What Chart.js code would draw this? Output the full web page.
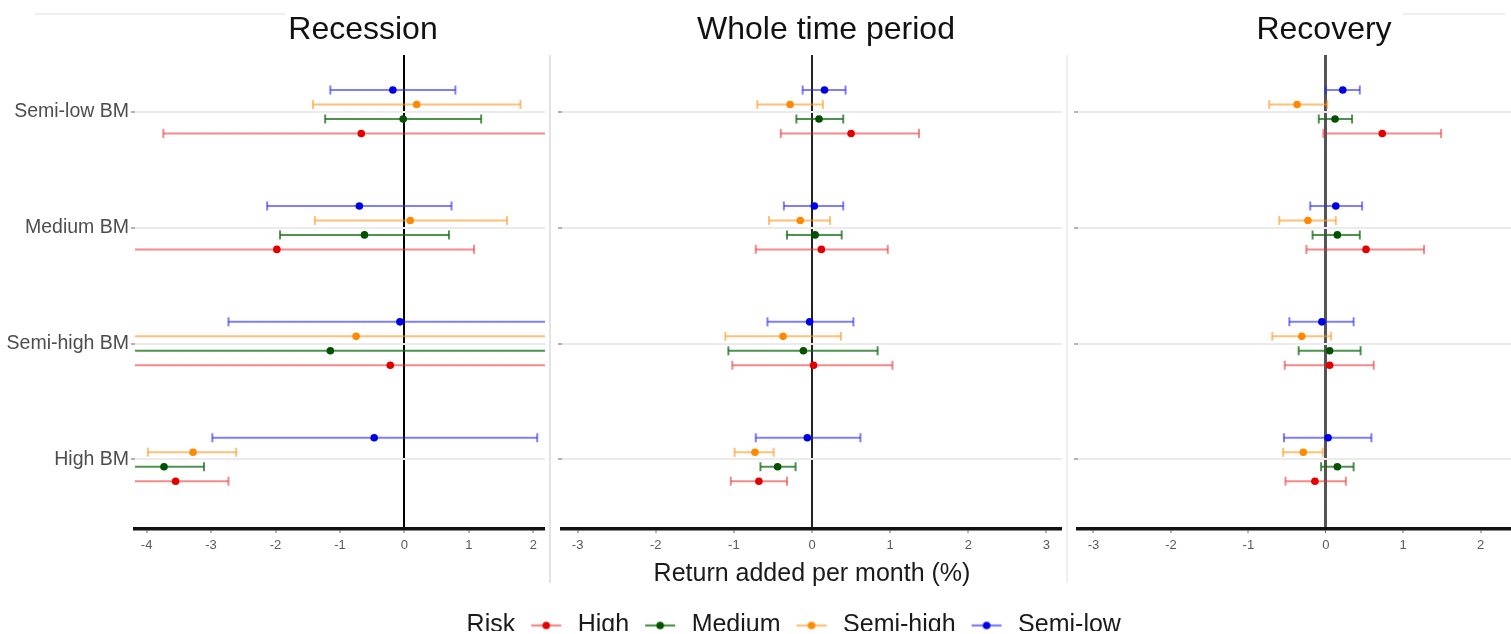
<!DOCTYPE html>
<html>
<head>
<meta charset="utf-8">
<script src="https://cdn.jsdelivr.net/npm/chart.js@4.4.1/dist/chart.umd.min.js"></script>
<style>
html,body{margin:0;padding:0;background:#fff;width:1511px;height:634px;overflow:hidden;position:relative}
canvas{position:absolute}
.sep{position:absolute;background:#e3e3e3}
</style>
</head>
<body>
<div class="sep" style="left:549px;top:55px;width:2px;height:528px"></div>
<div class="sep" style="left:1066px;top:55px;width:2px;height:528px;background:#f0f0f0"></div>
<div class="sep" style="left:35px;top:13px;width:250px;height:2px;background:#efefef"></div>
<div class="sep" style="left:1403px;top:13px;width:102px;height:2px;background:#efefef"></div>
<canvas id="c1" width="726" height="600" style="left:0;top:0"></canvas>
<canvas id="c2" width="546" height="600" style="left:553px;top:0"></canvas>
<canvas id="c3" width="512" height="600" style="left:1068px;top:0"></canvas>
<canvas id="cl" width="1511" height="60" style="left:13px;top:601px"></canvas>
<script>
// ---------- data ----------
const categories = ['High BM', 'Semi-high BM', 'Medium BM', 'Semi-low BM']; // bottom -> top
const riskLevels = ['High', 'Medium', 'Semi-high', 'Semi-low'];
const panelTitles = ['Recession', 'Whole time period', 'Recovery'];
const xAxisTitle = 'Return added per month (%)';
const legendTitle = 'Risk';
const recessionTicks = [-4, -3, -2, -1, 0, 1, 2];
const wholeTicks = [-3, -2, -1, 0, 1, 2, 3];
const recoveryTicks = [-3, -2, -1, 0, 1, 2, 3];

// rows follow riskLevels, columns follow categories
const recessionMean = [
  [-3.55, -0.22, -1.98, -0.67],
  [-3.73, -1.15, -0.62, -0.02],
  [-3.28, -0.75, 0.09, 0.19],
  [-0.47, -0.07, -0.70, -0.18]
];
const recessionLow = [
  [-4.37, -4.32, -5.04, -3.74],
  [-4.35, -4.75, -1.93, -1.23],
  [-3.98, -4.40, -1.39, -1.42],
  [-2.98, -2.73, -2.13, -1.15]
];
const recessionHigh = [
  [-2.73, 3.88, 1.08, 2.40],
  [-3.11, 2.45, 0.69, 1.19],
  [-2.61, 2.90, 1.59, 1.80],
  [2.06, 2.59, 0.73, 0.79]
];

const wholeMean = [
  [-0.68, 0.02, 0.12, 0.50],
  [-0.44, -0.11, 0.04, 0.09],
  [-0.73, -0.37, -0.15, -0.28],
  [-0.06, -0.03, 0.03, 0.16]
];
const wholeLow = [
  [-1.04, -1.02, -0.72, -0.40],
  [-0.66, -1.07, -0.32, -0.20],
  [-0.99, -1.11, -0.55, -0.70],
  [-0.72, -0.57, -0.36, -0.12]
];
const wholeHigh = [
  [-0.32, 1.03, 0.97, 1.37],
  [-0.21, 0.84, 0.38, 0.40],
  [-0.49, 0.37, 0.23, 0.14],
  [0.62, 0.53, 0.40, 0.43]
];

const recoveryMean = [
  [-0.14, 0.05, 0.52, 0.73],
  [0.15, 0.05, 0.15, 0.12],
  [-0.29, -0.31, -0.23, -0.37],
  [0.03, -0.05, 0.13, 0.22]
];
const recoveryLow = [
  [-0.52, -0.53, -0.25, -0.03],
  [-0.06, -0.35, -0.17, -0.09],
  [-0.55, -0.69, -0.60, -0.73],
  [-0.54, -0.47, -0.20, 0.00]
];
const recoveryHigh = [
  [0.26, 0.62, 1.27, 1.49],
  [0.36, 0.45, 0.44, 0.34],
  [-0.04, 0.07, 0.13, 0.02],
  [0.59, 0.36, 0.47, 0.44]
];

// ---------- styles ----------
const FONT = '"Liberation Sans", Arial, Helvetica, sans-serif';
const pointColors = ['#e50000', '#005200', '#ff8a00', '#0000e6'];
const lineColors = ['rgba(235,40,40,0.55)', 'rgba(20,110,20,0.75)', 'rgba(255,150,30,0.6)', 'rgba(40,40,255,0.6)'];
const DODGE = 0.125;

Chart.defaults.font.family = FONT;

function buildDatasets(mean, lo, hi) {
  const ds = [];
  riskLevels.forEach((risk, r) => {
    const off = (r - 1.5) * DODGE;
    const pts = [];
    categories.forEach((c, k) => {
      const y = k + 1 + off;
      pts.push({x: lo[r][k], y: y}, {x: hi[r][k], y: y}, {x: null, y: null});
    });
    ds.push({
      label: risk + ' interval', data: pts, showLine: true, spanGaps: false,
      borderColor: lineColors[r], borderWidth: 2,
      pointStyle: 'line', pointRotation: 90, pointRadius: 4.5, pointBorderWidth: 2,
      pointBorderColor: lineColors[r], pointBackgroundColor: lineColors[r], order: 2
    });
    ds.push({
      label: risk, data: categories.map((c, k) => ({x: mean[r][k], y: k + 1 + off})),
      showLine: false, pointRadius: 3.8, pointBorderWidth: 0,
      pointBackgroundColor: pointColors[r], pointBorderColor: pointColors[r], order: 1
    });
  });
  return ds;
}

function makePanel(id, cfg) {
  return new Chart(document.getElementById(id), {
    type: 'scatter',
    data: {datasets: buildDatasets(cfg.mean, cfg.lo, cfg.hi)},
    options: {
      responsive: false, animation: false, events: [], devicePixelRatio: 1,
      layout: {padding: 0},
      plugins: {
        legend: {display: false},
        tooltip: {enabled: false},
        title: {display: true, text: cfg.title, color: '#111', font: {size: 32, weight: 'normal'}, padding: {top: 11, bottom: 5.6}}
      },
      scales: {
        x: {
          type: 'linear', position: 'bottom', min: cfg.min, max: cfg.max, z: 1,
          afterBuildTicks: s => { s.ticks = cfg.ticks.map(v => ({value: v})); },
          afterFit: s => { s.height = 71; },
          grid: {
            color: c => (c.tick && c.tick.value === 0) ? cfg.zeroColor : 'rgba(0,0,0,0)',
            lineWidth: c => (c.tick && c.tick.value === 0) ? cfg.zeroWidth : 0,
            drawTicks: true, tickLength: 4, tickColor: '#666', tickWidth: 1
          },
          border: {display: true, color: '#111', width: 3.5},
          ticks: {autoSkip: false, maxRotation: 0, padding: 5, color: '#5a5a5a', font: {size: 13}, callback: v => String(v)},
          title: {display: !!cfg.xTitle, text: cfg.xTitle || '', color: '#1a1a1a', font: {size: 25}, padding: {top: 0, bottom: 11}}
        },
        y: {
          type: 'linear', position: 'left', min: 0.4, max: 4.49,
          afterBuildTicks: s => { s.ticks = categories.map((c, k) => ({value: k + 1})); },
          afterFit: s => { s.width = cfg.yW; },
          grid: {color: '#ebebeb', lineWidth: 2, drawTicks: true, tickLength: 4, tickColor: '#9a9a9a', tickWidth: 1.5},
          border: {display: false},
          ticks: {autoSkip: false, padding: 2, color: '#4d4d4d', font: {size: 19.5}, callback: v => cfg.showY ? categories[v - 1] : ''}
        },
        yPad: {
          type: 'linear', axis: 'y', position: 'right', display: true,
          grid: {display: false, drawTicks: false}, border: {display: false}, ticks: {display: false},
          afterFit: s => { s.width = cfg.rW; }
        }
      }
    }
  });
}

makePanel('c1', {title: panelTitles[0], mean: recessionMean, lo: recessionLow, hi: recessionHigh,
  ticks: recessionTicks, min: -4.18, max: 2.18, yW: 135, rW: 181, showY: true, zeroColor: '#000', zeroWidth: 2});
makePanel('c2', {title: panelTitles[1], mean: wholeMean, lo: wholeLow, hi: wholeHigh,
  ticks: wholeTicks, min: -3.2, max: 3.2, yW: 9, rW: 37, showY: false, zeroColor: '#222', zeroWidth: 2, xTitle: xAxisTitle});
makePanel('c3', {title: panelTitles[2], mean: recoveryMean, lo: recoveryLow, hi: recoveryHigh,
  ticks: recoveryTicks, min: -3.2, max: 3.2, yW: 10, rW: 2, showY: false, zeroColor: '#555', zeroWidth: 3});

// ---------- legend ----------
function legendSymbol(lineColor, pointColor) {
  const c = document.createElement('canvas');
  c.width = 38; c.height = 12;
  const g = c.getContext('2d');
  g.strokeStyle = lineColor; g.lineWidth = 2.2;
  g.beginPath(); g.moveTo(4, 6); g.lineTo(34, 6); g.stroke();
  g.fillStyle = pointColor;
  g.beginPath(); g.arc(19, 6, 3.8, 0, Math.PI * 2); g.fill();
  return c;
}
const blankSymbol = (() => { const c = document.createElement('canvas'); c.width = 1; c.height = 1; return c; })();
const legendSymbols = riskLevels.map((r, i) => legendSymbol(lineColors[i], pointColors[i]));

new Chart(document.getElementById('cl'), {
  type: 'scatter',
  data: {datasets: riskLevels.map((r, i) => ({label: r, data: [], backgroundColor: pointColors[i], borderColor: lineColors[i]}))},
  options: {
    responsive: false, animation: false, events: [], devicePixelRatio: 1,
    layout: {padding: 0},
    scales: {x: {display: false}, y: {display: false}},
    plugins: {
      tooltip: {enabled: false},
      legend: {
        display: true, position: 'top', align: 'center',
        labels: {
          usePointStyle: true, pointStyleWidth: 38, padding: 12, color: '#1a1a1a', font: {size: 25},
          generateLabels: chart => [{text: legendTitle, pointStyle: blankSymbol, fillStyle: 'rgba(0,0,0,0)', strokeStyle: 'rgba(0,0,0,0)', lineWidth: 0, hidden: false, fontColor: '#1a1a1a'}]
            .concat(chart.data.datasets.map((d, i) => ({text: d.label, pointStyle: legendSymbols[i], fillStyle: pointColors[i], strokeStyle: pointColors[i], lineWidth: 0, hidden: false, datasetIndex: i, fontColor: '#1a1a1a'})))
        }
      }
    }
  }
});
</script>
</body>
</html>
